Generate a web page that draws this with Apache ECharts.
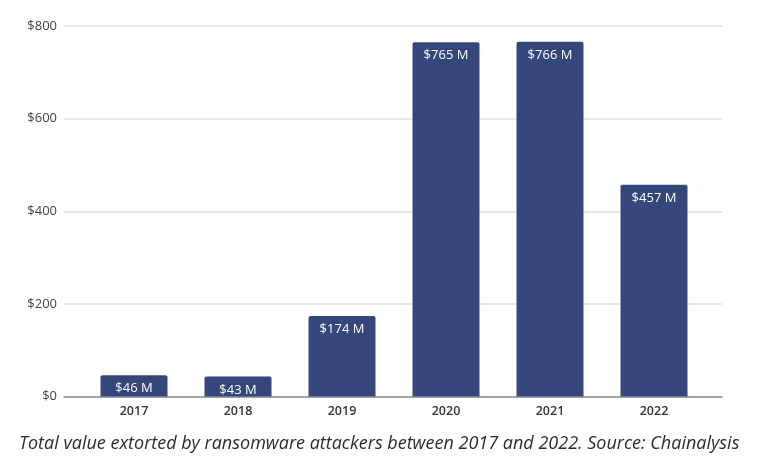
<!DOCTYPE html>
<html>
<head>
<meta charset="utf-8">
<script src="https://cdn.jsdelivr.net/npm/echarts@6/dist/echarts.min.js"></script>
<style>html,body{margin:0;padding:0;background:#fff;}#c{width:757px;height:463px;}</style>
</head>
<body>
<div id="c"></div>
<script>
const categories = ['2017', '2018', '2019', '2020', '2021', '2022'];
const values = [46, 43, 174, 765, 766, 457];
const yTicks = { min: 0, max: 800, interval: 200 };
const caption = 'Total value extorted by ransomware attackers between 2017 and 2022. Source: Chainalysis';

const chart = echarts.init(document.getElementById('c'));
const font = '"Open Sans", "Noto Sans", sans-serif';
chart.setOption({
  animation: false,
  backgroundColor: '#ffffff',
  title: {
    text: caption,
    left: 14, top: 430,
    textStyle: { fontFamily: font, fontStyle: 'italic', fontWeight: 'normal', fontSize: 18, color: '#2b2b2b' }
  },
  grid: [
    { left: 64, right: 35, top: 26, bottom: 66.5 },
    { left: 82, right: 51, top: 26, bottom: 66.5 }
  ],
  xAxis: [
    { gridIndex: 0, type: 'value', min: 0, max: 1, axisLabel: { show: false }, axisTick: { show: false }, splitLine: { show: false },
      axisLine: { show: true, onZero: false, lineStyle: { color: '#8a8a8a', width: 1.5 } } },
    { gridIndex: 1, type: 'category', data: categories, axisLine: { show: false }, axisTick: { show: false },
      axisLabel: { margin: 8, fontFamily: font, fontSize: 12.5, fontWeight: 600, color: '#333' } }
  ],
  yAxis: [
    { gridIndex: 0, type: 'value', min: yTicks.min, max: yTicks.max, interval: yTicks.interval,
      axisLine: { show: false }, axisTick: { show: false },
      axisLabel: { margin: 7, fontFamily: font, fontSize: 13, fontWeight: 500, color: '#444', formatter: v => '$' + v },
      splitLine: { lineStyle: { color: '#e2e2e2', width: 1.5 } } },
    { gridIndex: 1, type: 'value', min: yTicks.min, max: yTicks.max, interval: yTicks.interval, show: false, splitLine: { show: false } }
  ],
  series: [{
    type: 'bar', xAxisIndex: 1, yAxisIndex: 1, data: values, barWidth: 67,
    itemStyle: { color: '#34467a', borderRadius: [2, 2, 0, 0] },
    label: { show: true, position: 'insideTop', distance: 7, color: '#ffffff', fontFamily: font, fontSize: 13, formatter: p => '$' + p.value + ' M' }
  }]
});
</script>
</body>
</html>
